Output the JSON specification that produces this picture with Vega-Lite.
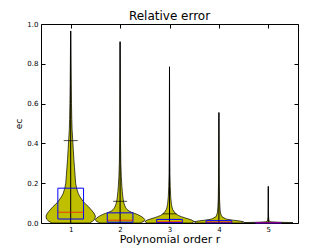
{
  "$schema": "https://vega.github.io/schema/vega-lite/v6.json",
  "width": 257,
  "height": 199,
  "autosize": "none",
  "padding": {"left": 41, "top": 24, "right": 34, "bottom": 26},
  "config": {
    "font": "DejaVu Sans",
    "view": {"stroke": "black", "strokeWidth": 1},
    "axis": {"grid": false, "domain": false, "tickColor": "black", "labelColor": "black", "titleColor": "black", "labelFont": "DejaVu Sans", "titleFont": "DejaVu Sans", "titleFontWeight": "normal", "labelFontSize": 7, "tickSize": -4}
  },
  "title": {"text": "Relative error", "fontSize": 12, "fontWeight": "normal", "color": "black", "offset": -3, "font": "DejaVu Sans"},
  "datasets": {
    "violins": [
      {"r": 1, "e": 0.0, "lo": 0.62, "hi": 1.38},
      {"r": 1, "e": 0.008, "lo": 0.56, "hi": 1.44},
      {"r": 1, "e": 0.02, "lo": 0.51, "hi": 1.49},
      {"r": 1, "e": 0.035, "lo": 0.5, "hi": 1.5},
      {"r": 1, "e": 0.05, "lo": 0.53, "hi": 1.47},
      {"r": 1, "e": 0.065, "lo": 0.58, "hi": 1.42},
      {"r": 1, "e": 0.082, "lo": 0.64, "hi": 1.36},
      {"r": 1, "e": 0.1, "lo": 0.72, "hi": 1.28},
      {"r": 1, "e": 0.12, "lo": 0.78, "hi": 1.22},
      {"r": 1, "e": 0.135, "lo": 0.82, "hi": 1.18},
      {"r": 1, "e": 0.15, "lo": 0.85, "hi": 1.15},
      {"r": 1, "e": 0.175, "lo": 0.88, "hi": 1.12},
      {"r": 1, "e": 0.2, "lo": 0.9, "hi": 1.1},
      {"r": 1, "e": 0.24, "lo": 0.912, "hi": 1.088},
      {"r": 1, "e": 0.28, "lo": 0.924, "hi": 1.076},
      {"r": 1, "e": 0.32, "lo": 0.936, "hi": 1.064},
      {"r": 1, "e": 0.37, "lo": 0.948, "hi": 1.052},
      {"r": 1, "e": 0.42, "lo": 0.96, "hi": 1.04},
      {"r": 1, "e": 0.47, "lo": 0.972, "hi": 1.028},
      {"r": 1, "e": 0.52, "lo": 0.978, "hi": 1.022},
      {"r": 1, "e": 0.6, "lo": 0.984, "hi": 1.016},
      {"r": 1, "e": 0.7, "lo": 0.989, "hi": 1.011},
      {"r": 1, "e": 0.8, "lo": 0.993, "hi": 1.007},
      {"r": 1, "e": 0.9, "lo": 0.996, "hi": 1.004},
      {"r": 1, "e": 0.965, "lo": 1.0, "hi": 1.0},
      {"r": 2, "e": 0.0, "lo": 1.6, "hi": 2.4},
      {"r": 2, "e": 0.008, "lo": 1.52, "hi": 2.48},
      {"r": 2, "e": 0.017, "lo": 1.5, "hi": 2.5},
      {"r": 2, "e": 0.026, "lo": 1.53, "hi": 2.47},
      {"r": 2, "e": 0.034, "lo": 1.58, "hi": 2.42},
      {"r": 2, "e": 0.042, "lo": 1.64, "hi": 2.36},
      {"r": 2, "e": 0.048, "lo": 1.7, "hi": 2.3},
      {"r": 2, "e": 0.054, "lo": 1.77, "hi": 2.23},
      {"r": 2, "e": 0.06, "lo": 1.82, "hi": 2.18},
      {"r": 2, "e": 0.068, "lo": 1.86, "hi": 2.14},
      {"r": 2, "e": 0.076, "lo": 1.885, "hi": 2.115},
      {"r": 2, "e": 0.09, "lo": 1.91, "hi": 2.09},
      {"r": 2, "e": 0.101, "lo": 1.924, "hi": 2.076},
      {"r": 2, "e": 0.12, "lo": 1.938, "hi": 2.062},
      {"r": 2, "e": 0.134, "lo": 1.946, "hi": 2.054},
      {"r": 2, "e": 0.16, "lo": 1.956, "hi": 2.044},
      {"r": 2, "e": 0.184, "lo": 1.964, "hi": 2.036},
      {"r": 2, "e": 0.235, "lo": 1.976, "hi": 2.024},
      {"r": 2, "e": 0.3, "lo": 1.985, "hi": 2.015},
      {"r": 2, "e": 0.4, "lo": 1.991, "hi": 2.009},
      {"r": 2, "e": 0.5, "lo": 1.994, "hi": 2.006},
      {"r": 2, "e": 0.65, "lo": 1.996, "hi": 2.004},
      {"r": 2, "e": 0.8, "lo": 1.998, "hi": 2.002},
      {"r": 2, "e": 0.911, "lo": 2.0, "hi": 2.0},
      {"r": 3, "e": 0.0, "lo": 2.55, "hi": 3.45},
      {"r": 3, "e": 0.007, "lo": 2.5, "hi": 3.5},
      {"r": 3, "e": 0.015, "lo": 2.55, "hi": 3.45},
      {"r": 3, "e": 0.026, "lo": 2.69, "hi": 3.31},
      {"r": 3, "e": 0.032, "lo": 2.76, "hi": 3.24},
      {"r": 3, "e": 0.038, "lo": 2.82, "hi": 3.18},
      {"r": 3, "e": 0.045, "lo": 2.86, "hi": 3.14},
      {"r": 3, "e": 0.051, "lo": 2.89, "hi": 3.11},
      {"r": 3, "e": 0.06, "lo": 2.915, "hi": 3.085},
      {"r": 3, "e": 0.068, "lo": 2.935, "hi": 3.065},
      {"r": 3, "e": 0.08, "lo": 2.95, "hi": 3.05},
      {"r": 3, "e": 0.093, "lo": 2.96, "hi": 3.04},
      {"r": 3, "e": 0.11, "lo": 2.968, "hi": 3.032},
      {"r": 3, "e": 0.134, "lo": 2.976, "hi": 3.024},
      {"r": 3, "e": 0.184, "lo": 2.985, "hi": 3.015},
      {"r": 3, "e": 0.25, "lo": 2.991, "hi": 3.009},
      {"r": 3, "e": 0.35, "lo": 2.994, "hi": 3.006},
      {"r": 3, "e": 0.5, "lo": 2.996, "hi": 3.004},
      {"r": 3, "e": 0.65, "lo": 2.998, "hi": 3.002},
      {"r": 3, "e": 0.785, "lo": 3.0, "hi": 3.0},
      {"r": 4, "e": 0.0, "lo": 3.55, "hi": 4.45},
      {"r": 4, "e": 0.006, "lo": 3.5, "hi": 4.5},
      {"r": 4, "e": 0.01, "lo": 3.58, "hi": 4.42},
      {"r": 4, "e": 0.014, "lo": 3.71, "hi": 4.29},
      {"r": 4, "e": 0.018, "lo": 3.82, "hi": 4.18},
      {"r": 4, "e": 0.022, "lo": 3.87, "hi": 4.13},
      {"r": 4, "e": 0.031, "lo": 3.935, "hi": 4.065},
      {"r": 4, "e": 0.04, "lo": 3.955, "hi": 4.045},
      {"r": 4, "e": 0.051, "lo": 3.968, "hi": 4.032},
      {"r": 4, "e": 0.065, "lo": 3.975, "hi": 4.025},
      {"r": 4, "e": 0.084, "lo": 3.98, "hi": 4.02},
      {"r": 4, "e": 0.12, "lo": 3.987, "hi": 4.013},
      {"r": 4, "e": 0.2, "lo": 3.992, "hi": 4.008},
      {"r": 4, "e": 0.3, "lo": 3.995, "hi": 4.005},
      {"r": 4, "e": 0.45, "lo": 3.997, "hi": 4.003},
      {"r": 4, "e": 0.555, "lo": 4.0, "hi": 4.0},
      {"r": 5, "e": 0.0, "lo": 4.55, "hi": 5.45},
      {"r": 5, "e": 0.002, "lo": 4.5, "hi": 5.5},
      {"r": 5, "e": 0.004, "lo": 4.8, "hi": 5.2},
      {"r": 5, "e": 0.006, "lo": 4.95, "hi": 5.05},
      {"r": 5, "e": 0.01, "lo": 4.985, "hi": 5.015},
      {"r": 5, "e": 0.03, "lo": 4.994, "hi": 5.006},
      {"r": 5, "e": 0.08, "lo": 4.997, "hi": 5.003},
      {"r": 5, "e": 0.184, "lo": 5.0, "hi": 5.0}
    ],
    "stats": [
      {"r": 1, "min": 0.0, "max": 0.965, "q1": 0.02, "q3": 0.175, "med": 0.054},
      {"r": 2, "min": 0.0, "max": 0.911, "q1": 0.004, "q3": 0.051, "med": 0.014},
      {"r": 3, "min": 0.0, "max": 0.785, "q1": 0.002, "q3": 0.018, "med": 0.006},
      {"r": 4, "min": 0.0, "max": 0.555, "q1": 0.001, "q3": 0.012, "med": 0.005},
      {"r": 5, "min": 0.0, "max": 0.184, "q1": 0.0, "q3": 0.002, "med": 0.001}
    ],
    "caps": [
      {"r": 1, "cap": 0.414},
      {"r": 2, "cap": 0.109},
      {"r": 3, "cap": 0.046}
    ]
  },
  "layer": [
    {
      "data": {"name": "violins"},
      "mark": {"type": "area", "orient": "horizontal", "fill": "#bfbf00", "fillOpacity": 1, "stroke": "black", "strokeWidth": 0.7},
      "encoding": {
        "y": {"field": "e", "type": "quantitative", "scale": {"domain": [0, 1], "nice": false, "zero": false},
              "axis": {"orient": "left", "values": [0, 0.2, 0.4, 0.6, 0.8, 1.0], "format": ".1f", "labelPadding": 7, "title": "eᴄ", "titleFontSize": 9, "titlePadding": 3}},
        "x": {"field": "lo", "type": "quantitative", "stack": null, "scale": {"domain": [0.5, 5.5], "nice": false, "zero": false},
              "axis": {"orient": "bottom", "values": [1, 2, 3, 4, 5], "format": "d", "labelPadding": 6, "title": "Polynomial order r", "titleFontSize": 11, "titlePadding": 1}},
        "x2": {"field": "hi"},
        "detail": {"field": "r"}
      }
    },
    {
      "data": {"name": "stats"},
      "mark": {"type": "rule", "color": "black", "strokeWidth": 1},
      "encoding": {
        "x": {"field": "r", "type": "quantitative", "axis": {"orient": "top", "values": [1, 2, 3, 4, 5], "labels": false, "title": null}},
        "y": {"field": "min", "type": "quantitative", "axis": {"orient": "right", "values": [0, 0.2, 0.4, 0.6, 0.8, 1.0], "labels": false, "title": null}},
        "y2": {"field": "max"}
      }
    },
    {
      "data": {"name": "stats"},
      "mark": {"type": "bar", "width": 25.7, "fill": "white", "fillOpacity": 0, "stroke": "blue", "strokeWidth": 1},
      "encoding": {
        "x": {"field": "r", "type": "quantitative", "axis": null},
        "y": {"field": "q1", "type": "quantitative", "axis": null},
        "y2": {"field": "q3"}
      }
    },
    {
      "data": {"name": "stats"},
      "mark": {"type": "tick", "orient": "horizontal", "size": 25.7, "thickness": 1, "color": "red"},
      "encoding": {
        "x": {"field": "r", "type": "quantitative", "axis": null},
        "y": {"field": "med", "type": "quantitative", "axis": null}
      }
    },
    {
      "data": {"name": "caps"},
      "mark": {"type": "tick", "orient": "horizontal", "size": 14, "thickness": 1, "color": "black"},
      "encoding": {
        "x": {"field": "r", "type": "quantitative", "axis": null},
        "y": {"field": "cap", "type": "quantitative", "axis": null}
      }
    }
  ],
  "resolve": {"axis": {"x": "independent", "y": "independent"}}
}
